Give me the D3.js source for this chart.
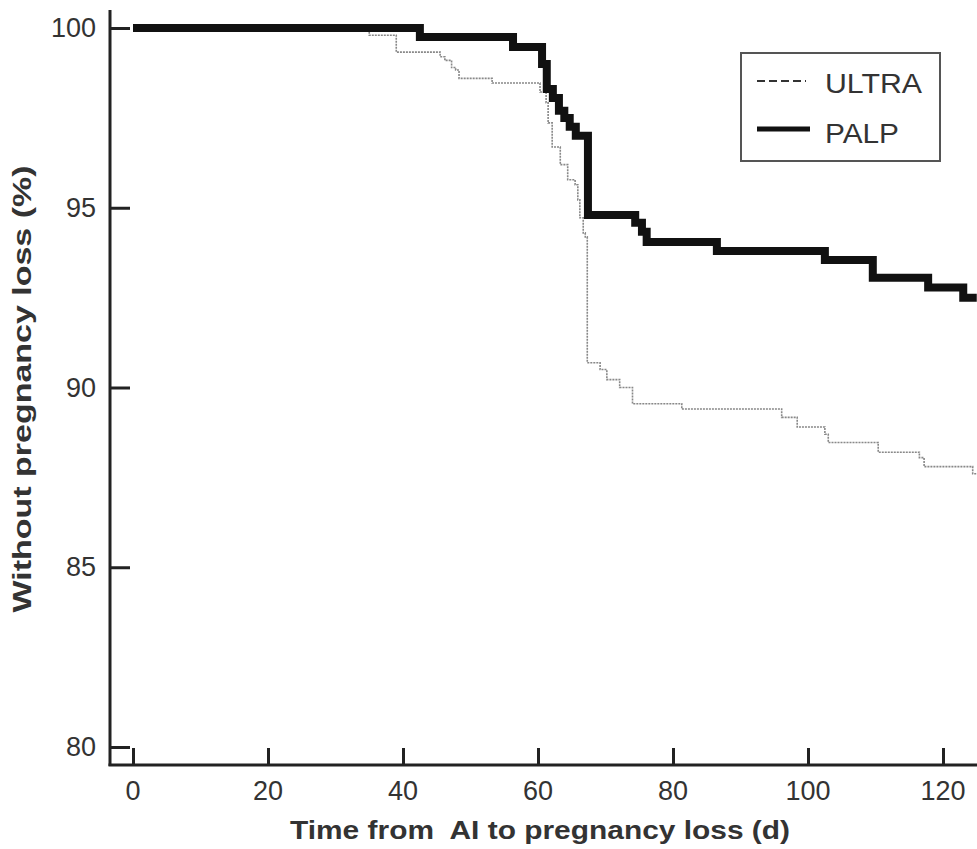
<!DOCTYPE html>
<html lang="en">
  <head>
    <meta charset="UTF-8" />
    <title>Without pregnancy loss</title>
    <script src="https://d3js.org/d3.v7.min.js"></script>
    <style>
      body {
        margin: 0;
        background: #fff;
      }
      text {
        font-family: "Liberation Sans", Arial, sans-serif;
        fill: #333;
      }
      .tick-label {
        font-size: 27px;
      }
      .axis-title {
        font-size: 26px;
        font-weight: bold;
        white-space: pre;
      }
      .legend-label {
        font-size: 27px;
      }
    </style>
  </head>
  <body>
    <svg width="977" height="849"></svg>
    <script>
      // Kaplan-Meier style step data: [day, % without loss]
      var ultraDays = [0, 35, 39, 45.5, 46.2, 47.2, 47.8, 48.3, 53.2, 60.3, 61.2, 61.5, 62.1, 63.3, 64.4, 65.5, 65.9, 66.2, 66.7, 67.0, 67.3, 69.2, 70.2, 72.1, 74.0, 81.3, 96.1, 98.4, 102.5, 103, 110.4, 116.5, 117.2, 124.4, 125];
      var ultraSurv = [100, 99.8, 99.33, 99.2, 99.1, 98.9, 98.83, 98.6, 98.47, 98.22, 97.92, 97.36, 96.69, 96.2, 95.78, 95.64, 95.22, 94.72, 94.3, 94.19, 90.69, 90.5, 90.22, 90.0, 89.55, 89.4, 89.17, 88.9, 88.7, 88.47, 88.2, 88.05, 87.8, 87.6, 87.6];

      var palpDays = [0, 42.5, 56.3, 60.6, 61.3, 62.2, 63.1, 63.9, 64.7, 65.6, 67.4, 74.4, 75.4, 76.1, 86.5, 102.5, 109.6, 117.8, 123, 125];
      var palpSurv = [100, 99.75, 99.47, 99.0, 98.3, 98.05, 97.7, 97.5, 97.25, 97.0, 94.8, 94.58, 94.33, 94.05, 93.8, 93.55, 93.05, 92.78, 92.5, 92.5];

      var xTicks = [0, 20, 40, 60, 80, 100, 120];
      var yTicks = [80, 85, 90, 95, 100];
      var seriesNames = ["ULTRA", "PALP"];
      var legendWidths = [97, 74]; // text is drawn a bit wide in the original

      var svg = d3.select("svg");

      var x = d3.scaleLinear().domain([0, 120]).range([133, 943]);
      var y = d3.scaleLinear().domain([80, 100]).range([747, 28]);

      var axisColor = "#222";

      // axis lines
      svg
        .append("line")
        .attr("x1", 110)
        .attr("x2", 110)
        .attr("y1", y(100.5))
        .attr("y2", 766)
        .attr("stroke", axisColor)
        .attr("stroke-width", 3);
      svg
        .append("line")
        .attr("x1", 108.5)
        .attr("x2", 977)
        .attr("y1", 765)
        .attr("y2", 765)
        .attr("stroke", axisColor)
        .attr("stroke-width", 3);

      // y ticks (pointing inward)
      var yAxis = d3
        .axisRight(y)
        .tickValues(yTicks)
        .tickSize(20)
        .tickFormat("");
      var gy = svg.append("g").attr("transform", "translate(110,0)").call(yAxis);
      gy.select(".domain").remove();
      gy.selectAll(".tick line").attr("stroke", axisColor).attr("stroke-width", 3);

      svg
        .selectAll(".ylab")
        .data(yTicks)
        .enter()
        .append("text")
        .attr("class", "tick-label")
        .attr("x", 96)
        .attr("y", function (d) {
          return y(d) + 9;
        })
        .attr("text-anchor", "end")
        .text(function (d) {
          return d;
        });

      // x ticks (pointing inward)
      var xAxis = d3
        .axisTop(x)
        .tickValues(xTicks)
        .tickSize(17)
        .tickFormat("");
      var gx = svg.append("g").attr("transform", "translate(0,765)").call(xAxis);
      gx.select(".domain").remove();
      gx.selectAll(".tick line").attr("stroke", axisColor).attr("stroke-width", 3);

      svg
        .selectAll(".xlab")
        .data(xTicks)
        .enter()
        .append("text")
        .attr("class", "tick-label")
        .attr("x", function (d) {
          return x(d);
        })
        .attr("y", 800)
        .attr("text-anchor", "middle")
        .text(function (d) {
          return d;
        });

      // axis titles
      svg
        .append("text")
        .attr("class", "axis-title")
        .attr("x", 540)
        .attr("y", 839)
        .attr("text-anchor", "middle")
        .attr("textLength", 500)
        .attr("lengthAdjust", "spacingAndGlyphs")
        .text("Time from  AI to pregnancy loss (d)");

      svg
        .append("text")
        .attr("class", "axis-title")
        .attr("transform", "translate(31,389) rotate(-90)")
        .attr("text-anchor", "middle")
        .attr("textLength", 447)
        .attr("lengthAdjust", "spacingAndGlyphs")
        .text("Without pregnancy loss (%)");

      // curves
      var line = d3
        .line()
        .x(function (d) {
          return x(d[0]);
        })
        .y(function (d) {
          return y(d[1]);
        })
        .curve(d3.curveStepAfter);

      var ultra = d3.zip(ultraDays, ultraSurv);
      var palp = d3.zip(palpDays, palpSurv);

      svg
        .append("path")
        .datum(ultra)
        .attr("d", line)
        .attr("fill", "none")
        .attr("stroke", "#888")
        .attr("stroke-width", 1.6)
        .attr("stroke-dasharray", "2,1");

      svg
        .append("path")
        .datum(palp)
        .attr("d", line)
        .attr("fill", "none")
        .attr("stroke", "#111")
        .attr("stroke-width", 8)
        .attr("stroke-linejoin", "miter");

      // legend
      var legend = svg.append("g");
      legend
        .append("rect")
        .attr("x", 741)
        .attr("y", 53)
        .attr("width", 199)
        .attr("height", 108)
        .attr("fill", "#fff")
        .attr("stroke", "#555")
        .attr("stroke-width", 2);

      legend
        .append("line")
        .attr("x1", 757)
        .attr("x2", 806)
        .attr("y1", 81)
        .attr("y2", 81)
        .attr("stroke", "#333")
        .attr("stroke-width", 2)
        .attr("stroke-dasharray", "8,4");
      legend
        .append("line")
        .attr("x1", 757)
        .attr("x2", 810)
        .attr("y1", 129)
        .attr("y2", 129)
        .attr("stroke", "#111")
        .attr("stroke-width", 5);

      legend
        .selectAll(".legend-label")
        .data(seriesNames)
        .enter()
        .append("text")
        .attr("class", "legend-label")
        .attr("x", 825)
        .attr("y", function (d, i) {
          return 93 + i * 50;
        })
        .attr("textLength", function (d, i) {
          return legendWidths[i];
        })
        .attr("lengthAdjust", "spacingAndGlyphs")
        .text(function (d) {
          return d;
        });
    </script>
  </body>
</html>
